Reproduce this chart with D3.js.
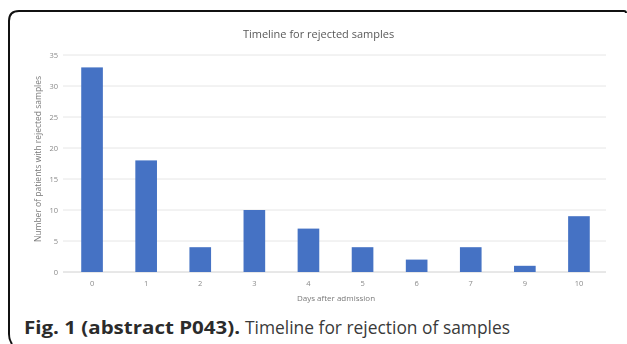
<!DOCTYPE html>
<html>
<head>
<meta charset="utf-8">
<script src="https://cdn.jsdelivr.net/npm/d3@7"></script>
<style>
  html, body { margin: 0; padding: 0; background: #fff; }
  svg { display: block; }
</style>
</head>
<body>
<svg id="chart" width="627" height="344"></svg>
<script>
// Days after admission and number of patients with rejected samples
const days = ["0", "1", "2", "3", "4", "5", "6", "7", "9", "10"];
const patients = [33, 18, 4, 10, 7, 4, 2, 4, 1, 9];
const yTicks = [0, 5, 10, 15, 20, 25, 30, 35];

const svg = d3.select("#chart");
const font = "'Open Sans', 'Noto Sans', sans-serif";

// Soft rendering for the embedded chart graphic
const defs = svg.append("defs");
defs.append("filter").attr("id", "soft")
  .append("feGaussianBlur").attr("stdDeviation", 0.35);

// Panel frame: left edge and top edge with rounded corners
svg.append("path")
  .attr("d", "M12,344 Q9,340 9,334 L9,21 Q9,11 19,11 L624,11 Q626,11 626,13")
  .attr("fill", "none")
  .attr("stroke", "#111")
  .attr("stroke-width", 2);

const margin = { left: 65, right: 21, top: 55, bottom: 72 };
const W = 627, H = 344;

const x = d3.scaleBand()
  .domain(days)
  .range([margin.left, W - margin.right])
  .paddingInner(0.6)
  .paddingOuter(0.3);

const y = d3.scaleLinear()
  .domain([0, 35])
  .range([H - margin.bottom, margin.top]);

const chart = svg.append("g").attr("filter", "url(#soft)");

// Horizontal gridlines
chart.append("g")
  .selectAll("line")
  .data(yTicks)
  .join("line")
  .attr("x1", margin.left - 2)
  .attr("x2", W - margin.right)
  .attr("y1", d => y(d))
  .attr("y2", d => y(d))
  .attr("stroke", d => d === 0 ? "#d0d0d0" : "#e6e6e6")
  .attr("stroke-width", 1);

// Y axis tick labels
const yAxis = d3.axisLeft(y).tickValues(yTicks).tickSize(0).tickPadding(7);
chart.append("g")
  .attr("transform", `translate(${margin.left},0)`)
  .call(yAxis)
  .call(g => g.select(".domain").remove())
  .call(g => g.selectAll("text")
    .attr("fill", "#8a8a8a")
    .attr("font-family", font)
    .attr("font-size", 7.5));

// X axis tick labels
const xAxis = d3.axisBottom(x).tickSize(0).tickPadding(9);
chart.append("g")
  .attr("transform", `translate(0,${y(0)})`)
  .call(xAxis)
  .call(g => g.select(".domain").remove())
  .call(g => g.selectAll("text")
    .attr("fill", "#8a8a8a")
    .attr("font-family", font)
    .attr("font-size", 7.5));

// Bars
chart.append("g")
  .selectAll("rect")
  .data(days.map((d, i) => ({ day: d, value: patients[i] })))
  .join("rect")
  .attr("x", d => x(d.day))
  .attr("width", x.bandwidth())
  .attr("y", d => y(d.value))
  .attr("height", d => y(0) - y(d.value))
  .attr("fill", "#4472c4");

// Chart title
chart.append("text")
  .attr("x", 318.5)
  .attr("y", 38)
  .attr("text-anchor", "middle")
  .attr("fill", "#595959")
  .attr("font-family", font)
  .attr("font-size", 11)
  .text("Timeline for rejected samples");

// Axis titles
chart.append("text")
  .attr("x", 336)
  .attr("y", 301)
  .attr("text-anchor", "middle")
  .attr("fill", "#7a7a7a")
  .attr("font-family", font)
  .attr("font-size", 8)
  .text("Days after admission");

chart.append("text")
  .attr("transform", "translate(41,159) rotate(-90)")
  .attr("text-anchor", "middle")
  .attr("fill", "#7a7a7a")
  .attr("font-family", font)
  .attr("font-size", 8.5)
  .text("Number of patients with rejected samples");

// Figure caption
const cap = svg.append("text")
  .attr("y", 334)
  .attr("fill", "#2b2b2b")
  .attr("font-family", font)
  .attr("font-size", 18);
cap.append("tspan")
  .attr("x", 24)
  .attr("font-weight", "bold")
  .attr("textLength", 216)
  .attr("lengthAdjust", "spacingAndGlyphs")
  .text("Fig. 1 (abstract P043).");
cap.append("tspan")
  .attr("x", 245)
  .attr("fill", "#3a3a3a")
  .attr("textLength", 265)
  .attr("lengthAdjust", "spacingAndGlyphs")
  .text("Timeline for rejection of samples");
</script>
</body>
</html>
